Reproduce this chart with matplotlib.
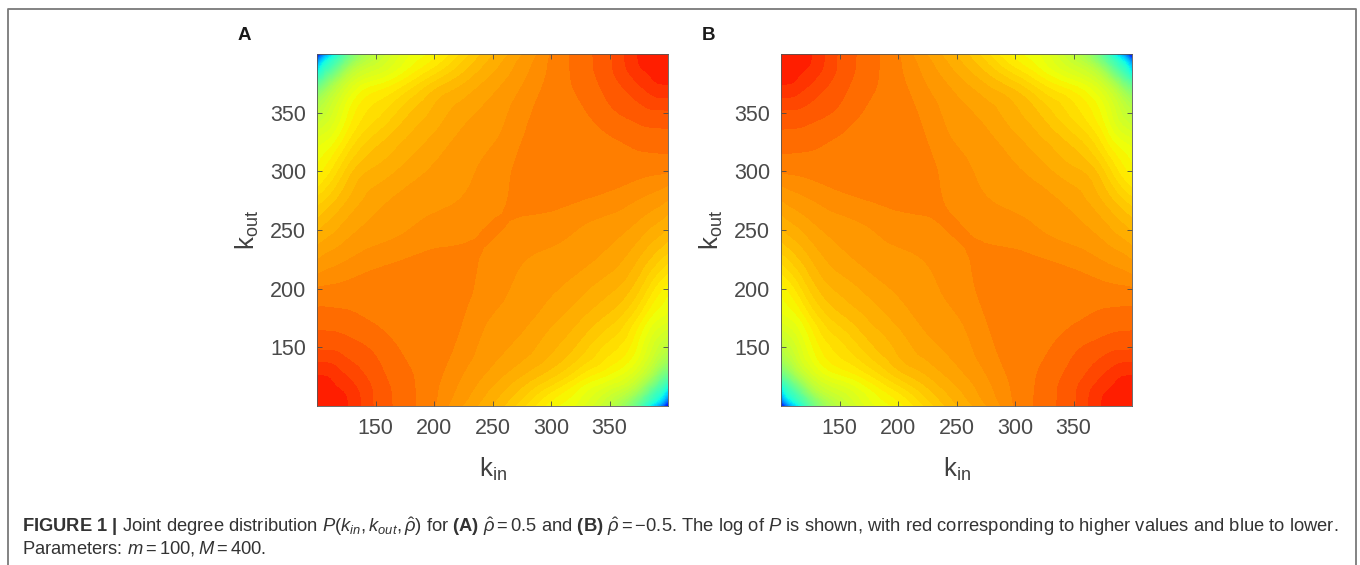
from __future__ import annotations

import matplotlib

matplotlib.use("Agg")
from matplotlib import pyplot as plt
from matplotlib import tri
import numpy as np

plt.rcParams["font.family"] = ["Liberation Sans", "DejaVu Sans"]
plt.rcParams["mathtext.fontset"] = "custom"
plt.rcParams["mathtext.rm"] = "Liberation Sans"
plt.rcParams["mathtext.it"] = "Liberation Sans:italic"
plt.rcParams["mathtext.bf"] = "Liberation Sans:bold"

WIDTH, HEIGHT = 1360, 565

# grid nodes, denser near the corners where the colour changes fast
k_nodes = [100, 104, 112, 125, 150, 175, 200, 225, 250, 275, 300, 325, 350, 375, 388, 396, 400]

# Rows run from k_out=400 down to k_out=250, the lower half is the same turned by 180 degrees.
row_400 = [0.106, 0.20, 0.33, 0.46, 0.575, 0.625, 0.65, 0.685, 0.715, 0.74, 0.766, 0.795, 0.822, 0.866, 0.874, 0.88, 0.882]
row_396 = [0.20, 0.293, 0.384, 0.481, 0.584, 0.63, 0.656, 0.69, 0.719, 0.743, 0.767, 0.795, 0.821, 0.866, 0.873, 0.879, 0.88]
row_388 = [0.33, 0.384, 0.44, 0.533, 0.604, 0.639, 0.669, 0.70, 0.725, 0.747, 0.768, 0.794, 0.821, 0.862, 0.87, 0.873, 0.874]
row_375 = [0.46, 0.481, 0.533, 0.595, 0.64, 0.665, 0.695, 0.716, 0.735, 0.752, 0.77, 0.791, 0.815, 0.846, 0.862, 0.866, 0.866]
row_350 = [0.575, 0.584, 0.604, 0.64, 0.675, 0.70, 0.72, 0.736, 0.746, 0.76, 0.772, 0.781, 0.80, 0.815, 0.821, 0.821, 0.822]
row_325 = [0.625, 0.63, 0.639, 0.665, 0.70, 0.718, 0.733, 0.745, 0.752, 0.765, 0.774, 0.776, 0.781, 0.791, 0.794, 0.795, 0.795]
row_300 = [0.65, 0.656, 0.669, 0.695, 0.72, 0.733, 0.743, 0.75, 0.758, 0.768, 0.772, 0.774, 0.772, 0.77, 0.768, 0.767, 0.766]
row_275 = [0.685, 0.69, 0.70, 0.716, 0.736, 0.745, 0.75, 0.754, 0.762, 0.767, 0.768, 0.765, 0.76, 0.752, 0.747, 0.743, 0.74]
row_250 = [0.715, 0.719, 0.725, 0.735, 0.746, 0.752, 0.758, 0.762, 0.7655, 0.762, 0.758, 0.752, 0.746, 0.735, 0.725, 0.719, 0.715]

tick_values = [150, 200, 250, 300, 350]


def draw_panel(fig, box, values, letter):
    left, top, right, bottom = box
    ax = fig.add_axes([left / WIDTH, 1 - bottom / HEIGHT, (right - left) / WIDTH, (bottom - top) / HEIGHT])
    # narrow bands up to the saddle level, wider ones around the red corners
    levels = np.concatenate([np.arange(0.105, 0.765, 0.012), np.arange(0.765, 0.9, 0.02)])
    # smooth contour bands through the read values
    xx, yy = np.meshgrid(k_nodes, k_nodes[::-1])
    mesh = tri.Triangulation(xx.ravel(), yy.ravel())
    smooth_mesh, smooth_values = tri.UniformTriRefiner(mesh).refine_field(values.ravel(), subdiv=3)
    ax.tricontourf(smooth_mesh, smooth_values, levels=levels, cmap="jet", vmin=0, vmax=1, extend="both")
    ax.set_xlim(100, 400)
    ax.set_ylim(100, 400)
    ax.set_xticks(tick_values)
    ax.set_yticks(tick_values)
    ax.tick_params(direction="in", length=3.5, width=0.6, top=True, right=True, labelsize=15.5, colors="#4a4a4a", pad=9)
    ax.tick_params(axis="y", pad=8)
    for spine in ax.spines.values():
        spine.set_color("#555555")
        spine.set_linewidth(0.6)
    ax.set_xlabel(r"$\mathrm{k_{in}}$", fontsize=18.5, color="#404040", labelpad=12)
    ax.set_ylabel(r"$\mathrm{k_{out}}$", fontsize=18.5, color="#404040", labelpad=6)
    fig.text((left - 79) / WIDTH, 1 - 36 / HEIGHT, letter, fontsize=13.5, fontweight="bold", color="#1a1a1a", ha="left", va="center")
    return ax


def main():
    rows = np.array([row_400, row_396, row_388, row_375, row_350, row_325, row_300, row_275, row_250])
    values_a = np.vstack([rows, rows[-2::-1, ::-1]])
    # panel B is panel A mirrored left to right
    values_b = values_a[:, ::-1]

    fig = plt.figure(figsize=(WIDTH / 100, HEIGHT / 100), dpi=100)
    draw_panel(fig, (317, 54, 668, 406), values_a, "A")
    draw_panel(fig, (781, 54, 1132, 406), values_b, "B")

    # frame around the figure, open at the bottom
    frame_x = [7.5 / WIDTH, 7.5 / WIDTH, 1356 / WIDTH, 1356 / WIDTH]
    frame_y = [0, 1 - 9 / HEIGHT, 1 - 9 / HEIGHT, 0]
    fig.add_artist(plt.Line2D(frame_x, frame_y, color="#7a7a7a", linewidth=1.3))

    caption = dict(fontsize=13.25, color="#333333", ha="left", va="center")
    line_1 = (
        r"$\mathbf{FIGURE\ 1\ |}$ Joint degree distribution $\mathit{P(k_{in},k_{out},\hat{\rho})}$ for "
        r"$\mathbf{(A)}$ $\hat{\rho}=0.5$ and $\mathbf{(B)}$ $\hat{\rho}=-0.5$. The log of $\mathit{P}$ is shown, "
        "with red corresponding to higher values and blue to lower."
    )
    line_2 = r"Parameters: $\mathit{m}=100,\mathit{M}=400$."
    fig.text(22 / WIDTH, 1 - 527 / HEIGHT, line_1, **caption)
    fig.text(22 / WIDTH, 1 - 549 / HEIGHT, line_2, **caption)

    fig.savefig("out.png", dpi=100)
    plt.close(fig)


if __name__ == "__main__":
    main()
